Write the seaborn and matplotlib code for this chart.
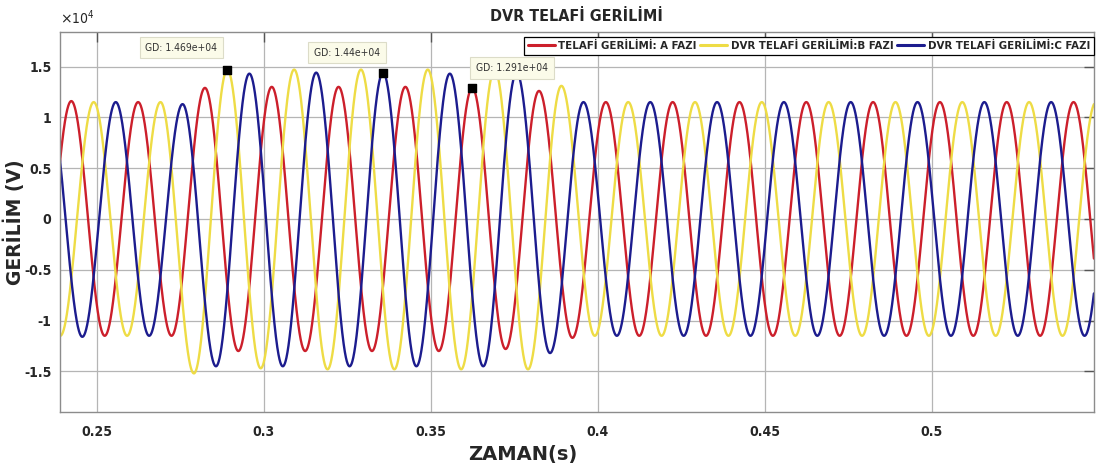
import numpy as np
import pandas as pd
import seaborn as sns
import matplotlib
matplotlib.use("Agg")
import matplotlib.pyplot as plt
from matplotlib.lines import Line2D
from matplotlib import font_manager as fm

# ---------------- data ----------------
title = "DVR TELAFİ GERİLİMİ"
xlabel = "ZAMAN(s)"
ylabel = "GERİLİM (V)"
phase_names = ["TELAFİ GERİLİMİ: A FAZI",
               "DVR TELAFİ GERİLİMİ:B FAZI",
               "DVR TELAFİ GERİLİMİ:C FAZI"]
phase_colors = ["#cc1f2b", "#eedc45", "#1c1c8e"]

half_period = 0.01          # s, spacing between successive extrema (50 Hz)
# time of first listed extremum for each phase (s)
a_t0 = 0.2324
b_t0 = 0.2291
c_t0 = 0.2257
# successive extrema (peak / trough) in units of 1e4 V
a_ext = [-1.15, 1.16, -1.15, 1.15, -1.15, 1.29, -1.30, 1.30, -1.30, 1.30,
         -1.30, 1.30, -1.30, 1.291, -1.28, 1.26, -1.17, 1.15, -1.15, 1.15,
         -1.15, 1.15, -1.15, 1.15, -1.15, 1.15, -1.15, 1.15, -1.15, 1.15,
         -1.15, 1.15, -1.15]
b_ext = [1.15, -1.15, 1.15, -1.15, 1.15, -1.52, 1.469, -1.47, 1.47, -1.48,
         1.47, -1.48, 1.47, -1.48, 1.47, -1.48, 1.31, -1.15, 1.15, -1.15,
         1.15, -1.15, 1.15, -1.15, 1.15, -1.15, 1.15, -1.15, 1.15, -1.15,
         1.15, -1.15, 1.15, -1.15]
c_ext = [-1.15, 1.15, -1.16, 1.15, -1.15, 1.13, -1.45, 1.43, -1.45, 1.44,
         -1.45, 1.44, -1.45, 1.43, -1.45, 1.44, -1.32, 1.15, -1.15, 1.15,
         -1.15, 1.15, -1.15, 1.15, -1.15, 1.15, -1.15, 1.15, -1.15, 1.15,
         -1.15, 1.15, -1.15, 1.15]
scale = 1e4

# data tips: (phase index, extremum index) and their texts
tip_phase = [1, 2, 0]
tip_index = [6, 11, 13]
tip_text = ["GD: 1.469e+04", "GD: 1.44e+04", "GD: 1.291e+04"]

xticks = [0.25, 0.30, 0.35, 0.40, 0.45, 0.50]
xtick_labels = ["0.25", "0.3", "0.35", "0.4", "0.45", "0.5"]
yticks = [-1.5, -1.0, -0.5, 0.0, 0.5, 1.0, 1.5]
ytick_labels = ["-1.5", "-1", "-0.5", "0", "0.5", "1", "1.5"]
xlim = (0.2390, 0.5485)
ylim = (-1.90, 1.84)

# ---------------- build smooth waveforms between extrema ----------------
t0s = [a_t0, b_t0, c_t0]
exts = [a_ext, b_ext, c_ext]
tt = np.linspace(xlim[0], xlim[1], 6000)
frames = []
for name, t0, ext in zip(phase_names, t0s, exts):
    ext = np.asarray(ext)
    ext_t = t0 + half_period * np.arange(len(ext))
    idx = np.clip(np.searchsorted(ext_t, tt, side="right") - 1, 0, len(ext) - 2)
    frac = (tt - ext_t[idx]) / (ext_t[idx + 1] - ext_t[idx])
    a0, a1 = ext[idx], ext[idx + 1]
    vv = (a0 + a1) / 2 + (a0 - a1) / 2 * np.cos(np.pi * frac)
    frames.append(pd.DataFrame({"t": tt, "v": vv * scale, "phase": name}))
df = pd.concat(frames, ignore_index=True)

# ---------------- plotting ----------------
sns.set_theme(style="white")
plt.rcParams["font.family"] = ["DejaVu Sans"]

def narrow(size, weight="bold"):
    return fm.FontProperties(family="DejaVu Sans", stretch="condensed",
                             weight=weight, size=size)

fig = plt.figure(figsize=(10.96, 4.74), dpi=100)
ax = fig.add_axes([0.0547, 0.1308, 0.9434, 0.8017])

sns.lineplot(data=df, x="t", y="v", hue="phase", hue_order=phase_names,
             palette=phase_colors, estimator=None, sort=False, lw=1.7,
             legend=False, ax=ax)

# data tip markers and boxes
tip_offsets = [(-46, 22), (-36, 20), (40, 20)]
for p, k, txt, off in zip(tip_phase, tip_index, tip_text, tip_offsets):
    tx = t0s[p] + half_period * k
    ty = exts[p][k] * scale
    ax.scatter([tx], [ty], marker="s", s=40, color="black", zorder=6)
    ax.annotate(txt, xy=(tx, ty), xytext=off, textcoords="offset pixels",
                ha="center", va="center", color="#333333",
                fontproperties=narrow(7.5, "normal"),
                bbox=dict(boxstyle="square,pad=0.55", fc="#fbfbe9",
                          ec="#dcdcc8", lw=0.8), zorder=7)

ax.set_xlim(*xlim)
ax.set_ylim(ylim[0] * scale, ylim[1] * scale)
ax.set_xticks(xticks)
ax.set_xticklabels(xtick_labels)
ax.set_yticks([v * scale for v in yticks])
ax.set_yticklabels(ytick_labels)
ax.grid(True, color="#b5b5b5", lw=0.9)
ax.set_axisbelow(True)
for s in ax.spines.values():
    s.set_color("#8c8c8c")
    s.set_linewidth(1.0)
ax.tick_params(direction="in", length=7, width=1.0, color="#555555",
               top=True, right=True, labelcolor="#262626")
ax.tick_params(axis="y", pad=6)
ax.tick_params(axis="x", pad=9)
for lab in ax.get_xticklabels() + ax.get_yticklabels():
    lab.set_fontproperties(narrow(10))

ax.text(0.0, 1.012, r"$\times\mathregular{10^{4}}$", transform=ax.transAxes,
        ha="left", va="bottom", color="#262626", fontproperties=narrow(10, "normal"))

ax.set_title(title, pad=8, fontproperties=narrow(11.5))
ax.set_xlabel(xlabel, fontsize=14, fontweight="bold")
ax.xaxis.set_label_coords(0.448, -0.088)
ax.set_ylabel(ylabel, fontsize=13.5, fontweight="bold")
ax.yaxis.set_label_coords(-0.034, 0.5)

handles = [Line2D([0], [0], color=c, lw=2.2) for c in phase_colors]
leg = ax.legend(handles, phase_names, ncol=3, loc="upper right",
                bbox_to_anchor=(1.0, 0.988), borderaxespad=0.0,
                frameon=True, fancybox=False, edgecolor="black",
                framealpha=1.0, handlelength=2.4, handletextpad=0.3,
                columnspacing=0.3, borderpad=0.35, prop=narrow(8.2))
leg.get_frame().set_linewidth(0.9)

fig.savefig("out.png", dpi=100)
